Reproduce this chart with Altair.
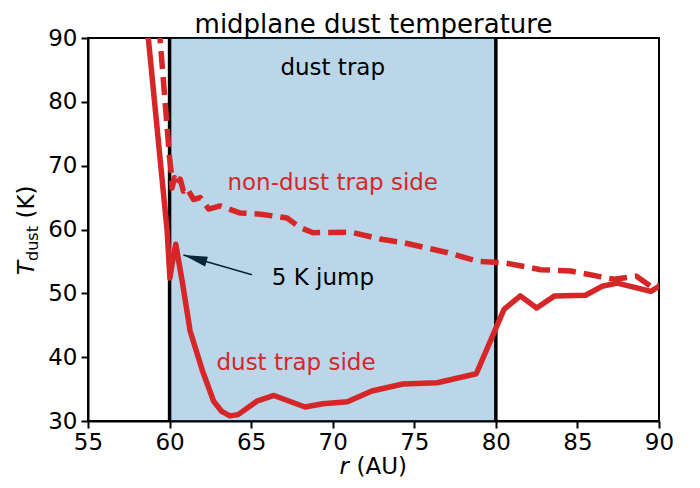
import altair as alt
import pandas as pd

# ---- data ----
r_trap = [58.62, 59.85, 60.02, 60.15, 60.38, 60.8, 61.26, 62.0, 62.7, 63.2, 63.7, 64.2,
          65.35, 66.4, 68.3, 69.4, 70.9, 72.4, 74.3, 76.4, 78.8, 80.5, 81.5, 82.5,
          83.6, 85.5, 86.5, 87.45, 89.5, 90.0]
T_trap = [92.0, 59.8, 52.4, 54.5, 57.7, 51.5, 44.1, 38.0, 33.1, 31.5, 30.8, 31.0,
          33.1, 34.0, 32.2, 32.7, 33.0, 34.7, 35.8, 36.0, 37.4, 47.5, 49.6, 47.7,
          49.6, 49.7, 51.1, 51.6, 50.3, 51.1]

r_non = [59.35, 60.0, 60.1, 60.15, 60.3, 60.44, 60.65, 60.85, 61.06, 61.47, 61.88,
         62.4, 63.1, 64.3, 65.6, 67.2, 68.0, 68.8, 71.1, 72.9, 74.4, 77.0, 78.9,
         80.5, 82.75, 84.6, 87.25, 88.6, 89.5, 90.0]
T_non = [92.0, 71.2, 69.0, 66.5, 68.1, 67.1, 67.9, 66.0, 66.5, 64.7, 65.0,
         63.2, 63.7, 62.6, 62.4, 61.8, 60.3, 59.5, 59.6, 58.5, 57.9, 56.4, 55.0,
         54.8, 53.7, 53.5, 52.2, 52.7, 51.1, 51.3]

trap_edges = [60, 80]
x_ticks = [55, 60, 65, 70, 75, 80, 85, 90]
y_ticks = [30, 40, 50, 60, 70, 80, 90]

ann_text = ["dust trap", "non-dust trap side", "dust trap side", "5 K jump"]
ann_r = [70.0, 70.0, 67.75, 69.4]
ann_T = [85.3, 67.3, 39.1, 52.4]
ann_color = ["black", "#d62728", "#d62728", "black"]

arrow_tail = (65.05, 52.9)
arrow_tip = (60.85, 56.0)

# ---- chart ----
FONT = "DejaVu Sans"
RED = "#d62728"
W, H = 571, 383

xs = alt.Scale(domain=[55, 90], nice=False, zero=False)
ys = alt.Scale(domain=[30, 90], nice=False, zero=False)

df_trap = pd.DataFrame({"r": r_trap, "T": T_trap})
df_non = pd.DataFrame({"r": r_non, "T": T_non})
df_span = pd.DataFrame({"a": [trap_edges[0]], "b": [trap_edges[1]]})
df_edges = pd.DataFrame({"r": trap_edges})
df_ann = pd.DataFrame({"t": ann_text, "r": ann_r, "T": ann_T, "c": ann_color})
df_arrow = pd.DataFrame({"r": [arrow_tail[0]], "T": [arrow_tail[1]],
                         "r2": [arrow_tip[0]], "T2": [arrow_tip[1]]})
df_tip = pd.DataFrame({"r": [arrow_tip[0]], "T": [arrow_tip[1]]})
one = pd.DataFrame({"a": [0]})

x_axis = alt.Axis(values=x_ticks, title=None, grid=False, labelFontSize=23,
                  labelFont=FONT, labelColor="black", tickSize=7, tickWidth=2,
                  tickColor="black", domainColor="black", domainWidth=2,
                  labelPadding=3, labelFlush=False, labelOverlap=False)
y_axis = alt.Axis(values=y_ticks, title=None, grid=False, labelFontSize=23,
                  labelFont=FONT, labelColor="black", tickSize=7, tickWidth=2,
                  tickColor="black", domainColor="black", domainWidth=2,
                  labelPadding=4, labelFlush=False, labelOverlap=False)

X = lambda f: alt.X(f, scale=xs, axis=x_axis)
Y = lambda f: alt.Y(f, scale=ys, axis=y_axis)

arrow_line = alt.Chart(df_arrow).mark_rule(color="black", strokeWidth=1.6).encode(
    x=X("r:Q"), y=Y("T:Q"), x2="r2:Q", y2="T2:Q")

arrow_head = alt.Chart(df_tip).mark_point(
    shape="M0,0L0.42,2L-0.42,2Z", filled=True, size=576, angle=286,
    color="black", opacity=1, strokeWidth=0).encode(x=X("r:Q"), y=Y("T:Q"))

span = alt.Chart(df_span).mark_rect(color="#1f77b4", opacity=0.3).encode(
    x=X("a:Q"), x2="b:Q")

edges = alt.Chart(df_edges).mark_rule(color="black", strokeWidth=3.5).encode(
    x=X("r:Q"))

line_trap = alt.Chart(df_trap).mark_line(
    color=RED, strokeWidth=5.5, clip=True, strokeJoin="round").encode(
    x=X("r:Q"), y=Y("T:Q"),
    order=alt.Order("idx:Q")).transform_window(idx="row_number()")

line_non = alt.Chart(df_non).mark_line(
    color=RED, strokeWidth=5.5, clip=True, strokeDash=[18, 8], strokeJoin="round").encode(
    x=X("r:Q"), y=Y("T:Q"),
    order=alt.Order("idx:Q")).transform_window(idx="row_number()")

ann = alt.Chart(df_ann).mark_text(font=FONT, fontSize=23, baseline="middle",
                                  align="center").encode(
    x=X("r:Q"), y=Y("T:Q"),
    text="t:N", color=alt.Color("c:N", scale=None))

# title and axis titles as text
title = alt.Chart(one).mark_text(text="midplane dust temperature", font=FONT,
                                 fontSize=26, baseline="alphabetic", align="center",
                                 color="black").encode(
    x=alt.value(W / 2), y=alt.value(-5.5))

xl_r = alt.Chart(one).mark_text(text="r", font=FONT, fontStyle="italic", fontSize=23,
                                baseline="alphabetic", align="left", color="black").encode(
    x=alt.value(251.5), y=alt.value(436))
xl_au = alt.Chart(one).mark_text(text="(AU)", font=FONT, fontSize=23,
                                 baseline="alphabetic", align="left", color="black").encode(
    x=alt.value(268.5), y=alt.value(436))

yl_T = alt.Chart(one).mark_text(text="T", font=FONT, fontStyle="italic", fontSize=23,
                                baseline="alphabetic", align="left", angle=270,
                                color="black").encode(
    x=alt.value(-54), y=alt.value(237))
yl_dust = alt.Chart(one).mark_text(text="dust", font=FONT, fontSize=16,
                                   baseline="alphabetic", align="left", angle=270,
                                   color="black").encode(
    x=alt.value(-50.5), y=alt.value(223))
yl_K = alt.Chart(one).mark_text(text="(K)", font=FONT, fontSize=23,
                                baseline="alphabetic", align="left", angle=270,
                                color="black").encode(
    x=alt.value(-54), y=alt.value(180.5))

chart = alt.layer(
    arrow_line, arrow_head, span, edges, line_trap, line_non,
    ann, title, xl_r, xl_au, yl_T, yl_dust, yl_K
).properties(
    width=W, height=H,
    autosize=alt.AutoSizeParams(type="none"),
    padding={"left": 80, "top": 30, "right": 25, "bottom": 58},
).configure_view(stroke="black", strokeWidth=2)

chart.save("out.html", embed_options={"renderer": "svg", "actions": False})
